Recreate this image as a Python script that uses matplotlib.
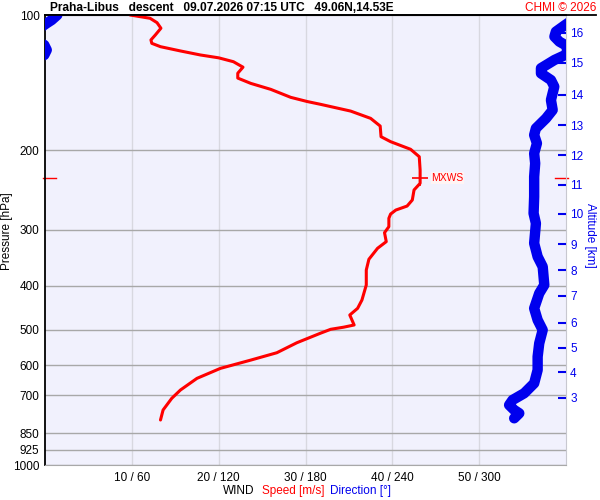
import numpy as np
import matplotlib
matplotlib.use('Agg')
import matplotlib.pyplot as plt
from matplotlib.lines import Line2D

plt.rcParams['font.family'] = ['Liberation Sans', 'DejaVu Sans']

# wind speed [m/s] against pressure [hPa]
speed_p = [100.0, 101.7, 104.0, 107.0, 110.8, 113.6, 115.6, 117.6, 120.2, 122.7,
           124.5, 127.0, 130.6, 134.7, 138.1, 141.9, 146.3, 152.4, 155.7, 157.9,
           163.5, 169.7, 176.5, 186.4, 191.2, 198.8, 206.5, 221.1, 236.6, 244.8,
           257.7, 265.8, 271.3, 276.9, 283.0, 295.4, 304.6, 318.9, 329.9, 349.0,
           368.7, 398.1, 429.9, 448.6, 464.2, 488.5, 494.0, 499.4, 509.7, 535.0,
           563.0, 584.6, 609.9, 641.9, 681.3, 710.9, 754.6, 794.3]
speed = [9.8, 12.1, 12.9, 13.35, 12.7, 12.2, 12.3, 13.3, 15.6, 17.9,
         20.0, 21.7, 22.8, 22.2, 22.2, 23.7, 26.0, 28.3, 30.2, 31.7,
         35.2, 37.5, 38.6, 38.7, 39.8, 42.1, 43.1, 43.2, 43.2, 42.5,
         42.3, 41.7, 40.4, 39.8, 39.6, 39.6, 39.1, 39.3, 38.3, 37.3,
         37.0, 37.0, 36.5, 36.0, 35.1, 35.6, 34.4, 32.9, 31.7, 29.0,
         26.7, 23.7, 20.2, 17.5, 15.6, 14.6, 13.6, 13.3]

# wind direction [deg] against pressure [hPa]
dir_p = [100.0, 102.6, 104.3, 105.2, 108.9, 111.7, 114.6, 116.6, 119.6, 122.7,
         125.9, 131.3, 134.8, 139.5, 144.3, 154.5, 162.6, 169.7, 178.6, 184.8,
         192.8, 203.0, 213.6, 228.8, 253.3, 275.9, 290.4, 321.6, 344.4, 362.5,
         398.1, 415.5, 448.6, 476.2, 501.2, 536.6, 574.6, 615.0, 658.3, 692.8,
         717.0, 735.6, 754.6, 767.5, 787.4]
direction = [8.5, 4.6, 1.2, 359.5, 353.0, 352.0, 355.4, 359.5, 1.2, 359.5,
             352.0, 342.7, 342.7, 349.6, 351.9, 349.6, 350.8, 346.2, 339.2, 338.0,
             339.9, 338.0, 338.7, 338.0, 338.0, 337.6, 339.2, 338.0, 340.4, 343.9,
             345.0, 341.5, 338.0, 340.4, 343.9, 341.5, 340.4, 340.4, 338.0, 331.1,
             323.1, 320.7, 324.2, 327.7, 324.2]

mxws_p = 230.3
mxws_speed = 43.2

p_ticks = [100, 200, 300, 400, 500, 600, 700, 850, 925, 1000]
spd_ticks = [10, 20, 30, 40, 50]
dir_ticks = [60, 120, 180, 240, 300]
alt_km = [3, 4, 5, 6, 7, 8, 9, 10, 11, 12, 13, 14, 15, 16]
alt_p = [708.8, 621.5, 549.5, 482.9, 421.0, 368.7, 322.8, 276.8, 238.4,
         204.7, 175.6, 150.4, 127.6, 109.6]

fig = plt.figure(figsize=(6, 5), dpi=100, facecolor='white')
ax = fig.add_axes([45/600, 35/500, 521/600, 450/500])
ax.set_facecolor('#f1f1fd')
ax.set_yscale('log')
ax.set_ylim(1000, 100)
ax.set_xlim(0, 60)
ax.set_yticks(p_ticks)
ax.set_yticklabels([str(p) for p in p_ticks])
ax.minorticks_off()
ax.set_xticks(spd_ticks)
ax.set_xticklabels([f'{s} / {d}' for s, d in zip(spd_ticks, dir_ticks)])
ax.tick_params(axis='both', length=0, labelsize=8.5)
ax.tick_params(axis='y', pad=4)
ax.tick_params(axis='x', pad=5)
ax.yaxis.grid(True, color='#a8a8a8', lw=1)
ax.xaxis.grid(True, color='#d8d8e0', lw=1)
ax.set_axisbelow(True)
ax.spines['left'].set_color('black')
ax.spines['left'].set_linewidth(1.3)
ax.spines['top'].set_color('black')
ax.spines['top'].set_linewidth(1.3)
ax.spines['right'].set_color('#c8c8d0')
ax.spines['bottom'].set_color('#a8a8a8')
ax.set_ylabel('Pressure [hPa]', fontsize=8.5)
ax.yaxis.set_label_coords(-0.0614, 0.52)

# speed
ax.plot(speed, speed_p, color='red', lw=2.2, solid_capstyle='round', zorder=4)
ax.plot([mxws_speed], [mxws_p], marker='+', color='red', ms=11, mew=1.2, zorder=5)
ax.text(mxws_speed + 1.3, mxws_p, 'MXWS', color='red', fontsize=7.5, va='center',
        ha='left', bbox=dict(facecolor='#fff4f4', edgecolor='none', pad=0.5), zorder=5)
tr = ax.get_yaxis_transform()
ax.plot([-0.004, 0.021], [mxws_p, mxws_p], color='red', lw=1, transform=tr, clip_on=False)
ax.plot([0.979, 1.004], [mxws_p, mxws_p], color='red', lw=1, transform=tr, clip_on=False)

# direction
axd = ax.twiny()
axd.set_xlim(0, 360)
axd.set_xticks([])
for s in axd.spines.values():
    s.set_visible(False)
d_un = np.rad2deg(np.unwrap(np.deg2rad(direction)))
for shift in (0, 360):
    axd.plot(d_un + shift, dir_p, color='#0000ee', lw=7.5,
             solid_capstyle='round', solid_joinstyle='round', zorder=3)

# altitude
ax2 = ax.twinx()
ax2.set_yscale('log')
ax2.set_ylim(1000, 100)
ax2.set_yticks(alt_p)
ax2.set_yticklabels([str(a) for a in alt_km])
ax2.minorticks_off()
ax2.tick_params(axis='y', direction='in', length=6, width=1.5, color='#0000ee',
                labelcolor='#0000ee', labelsize=8.5, pad=3)
for s in ax2.spines.values():
    s.set_visible(False)
ax2.set_ylabel('Altitude [km]', color='#0000ee', fontsize=8.5, rotation=-90)
ax2.yaxis.set_label_coords(1.058, 0.51)

fig.add_artist(Line2D([45/600, 596/600], [485/500, 485/500], color='black', lw=1.3))
fig.text(50/600, 492/500, 'Praha-Libus   descent   09.07.2026 07:15 UTC   49.06N,14.53E',
         fontsize=8.6, fontweight='bold', va='center', ha='left')
fig.text(596/600, 492/500, 'CHMI \u00a9 2026', color='red', fontsize=8.5, va='center', ha='right')

fig.text(239/600, 9/500, 'WIND', fontsize=8.5, ha='center', va='center')
fig.text(293/600, 9/500, 'Speed [m/s]', color='red', fontsize=8.5, ha='center', va='center')
fig.text(360/600, 9/500, 'Direction [\u00b0]', color='#0000ee', fontsize=8.5, ha='center', va='center')

fig.savefig('out.png', dpi=100)
